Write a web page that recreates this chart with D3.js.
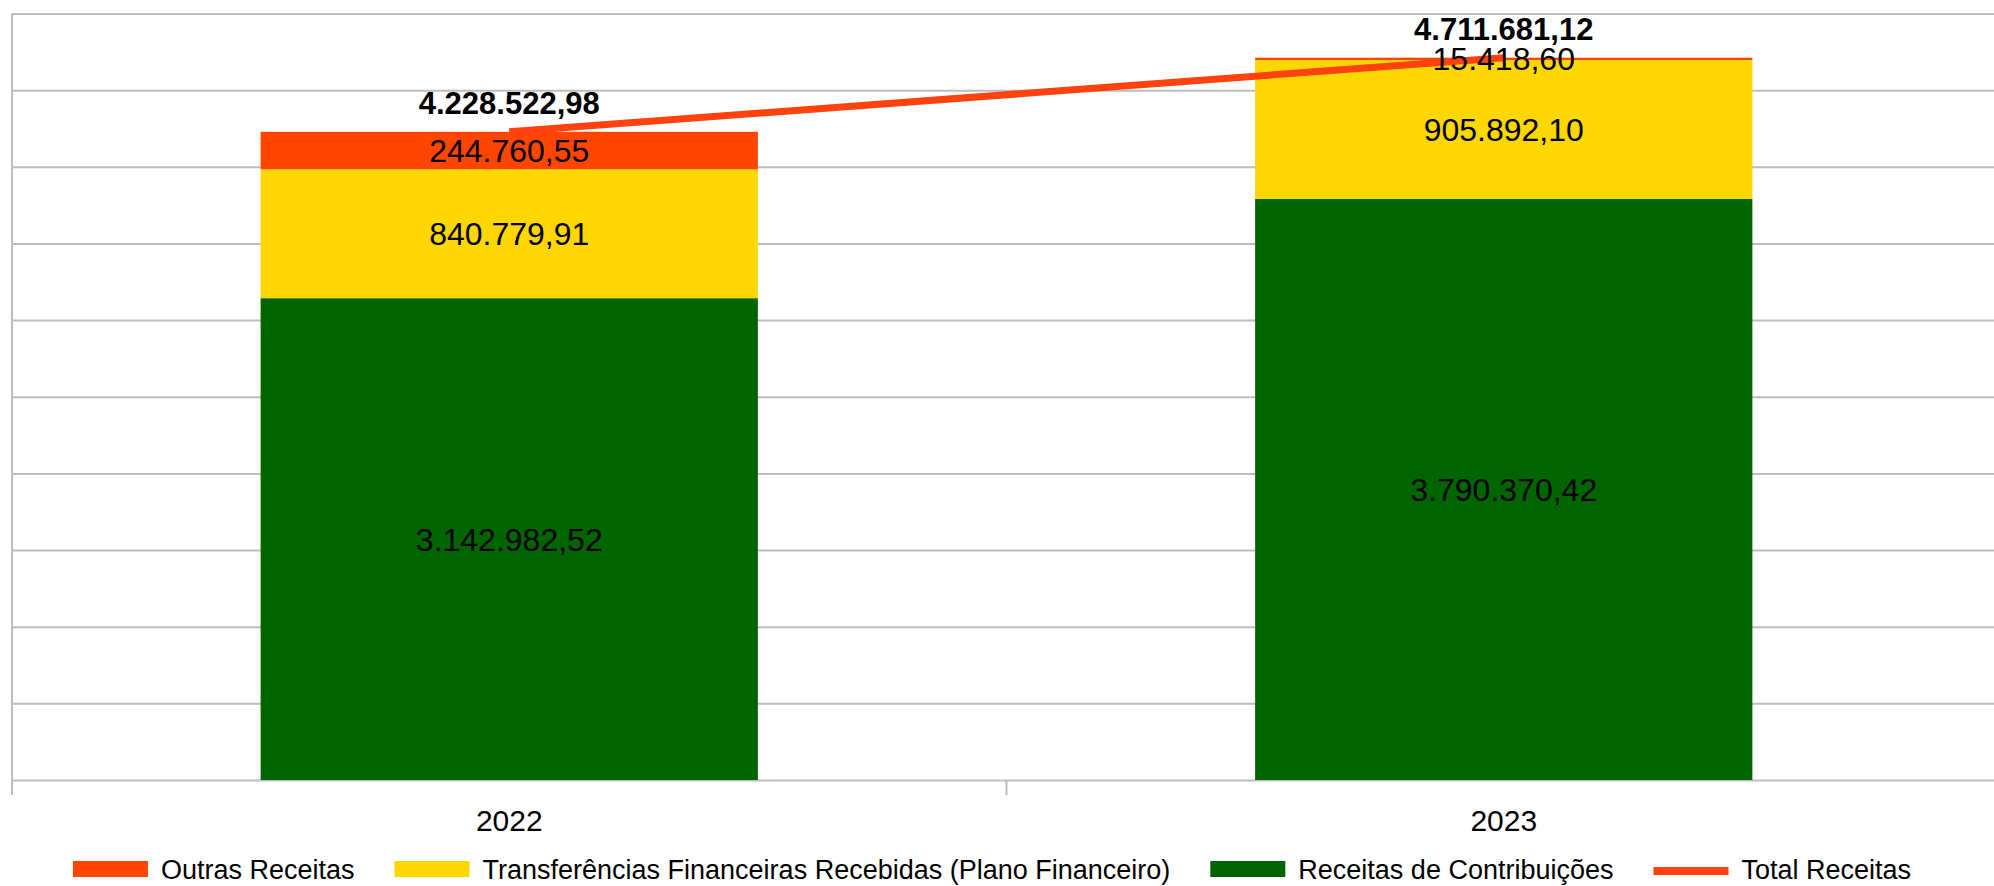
<html>
<head>
	<meta charset="UTF-8">
	<script src="https://cdn.jsdelivr.net/npm/d3@7"></script>
	<style>
		body { margin: 0; background: #fff; }
		svg { display: block; font-family: "Liberation Sans", Arial, sans-serif; }
		.grid line, .grid path { stroke: #bdbdbd; stroke-width: 2; }
		.xaxis line, .xaxis path { stroke: #bdbdbd; stroke-width: 2; }
		.xaxis text { font-size: 30px; fill: #000; }
		.vlabel { font-size: 32px; fill: #000; text-anchor: middle; }
		.tlabel { font-size: 31px; font-weight: bold; fill: #000; text-anchor: middle; }
		.legend text { font-size: 27px; fill: #000; }
		.total { fill: none; stroke: #ff420e; stroke-width: 7; }
	</style>
</head>
<body>
<div id="chart"></div>
<script type="text/javascript">
var years = ["2022", "2023"];
var contribuicoes = [3142982.52, 3790370.42];
var transferencias = [840779.91, 905892.10];
var outras = [244760.55, 15418.60];
var totais = [4228522.98, 4711681.12];
var seriesNames = ["Outras Receitas", "Transferências Financeiras Recebidas (Plano Financeiro)", "Receitas de Contribuições", "Total Receitas"];
var yTicks = [0, 500000, 1000000, 1500000, 2000000, 2500000, 3000000, 3500000, 4000000, 4500000, 5000000];

(function(d3) {
	var W = 1994, H = 886;
	var left = 12, right = 2001, top = 13.5, bottom = 780;

	var svg = d3.select("#chart").append("svg")
		.attr("width", W).attr("height", H);

	var x = d3.scaleBand().domain(years).range([left, right])
		.paddingInner(0.5).paddingOuter(0.25);
	var y = d3.scaleLinear().domain([0, 5000000]).range([bottom, top]);

	var fmt = function(v) {
		var s = v.toFixed(2).split(".");
		return s[0].replace(/\B(?=(\d{3})+(?!\d))/g, ".") + "," + s[1];
	};

	// grid lines (no labels)
	svg.append("g").attr("class", "grid")
		.attr("transform", "translate(" + left + ",0)")
		.call(d3.axisLeft(y).tickValues(yTicks).tickSize(-(W - left)).tickFormat(""))
		.call(function(g) { g.select(".domain").remove(); });
	svg.append("line").attr("class", "grid")
		.attr("x1", left).attr("x2", left).attr("y1", top).attr("y2", bottom + 15)
		.style("stroke", "#bdbdbd").style("stroke-width", 2);

	// category axis ticks sit between the bands
	var step = x.step();
	var boundaries = d3.range(years.length + 1).map(function(i) { return left + i * step; });
	svg.selectAll("line.xtick").data(boundaries).enter().append("line")
		.attr("class", "xtick")
		.attr("x1", function(d) { return d; }).attr("x2", function(d) { return d; })
		.attr("y1", bottom).attr("y2", bottom + 15)
		.style("stroke", "#bdbdbd").style("stroke-width", 2);

	svg.selectAll("text.xlab").data(years).enter().append("text")
		.attr("class", "xlab")
		.attr("x", function(d) { return x(d) + x.bandwidth() / 2; })
		.attr("y", 831)
		.attr("text-anchor", "middle")
		.style("font-size", "30px")
		.text(function(d) { return d; });

	// stacked segments
	var layers = [
		{ name: seriesNames[2], values: contribuicoes, color: "#006400" },
		{ name: seriesNames[1], values: transferencias, color: "#ffd700" },
		{ name: seriesNames[0], values: outras, color: "#ff4500" }
	];
	var base = years.map(function() { return 0; });
	layers.forEach(function(layer) {
		var segs = years.map(function(yr, i) {
			var s = { year: yr, y0: base[i], y1: base[i] + layer.values[i], v: layer.values[i] };
			base[i] = s.y1;
			return s;
		});
		svg.append("g").selectAll("rect").data(segs).enter().append("rect")
			.attr("x", function(d) { return x(d.year); })
			.attr("width", x.bandwidth())
			.attr("y", function(d) { return y(d.y1); })
			.attr("height", function(d) { return y(d.y0) - y(d.y1); })
			.attr("fill", layer.color);
		layer.segs = segs;
	});

	// total line
	var line = d3.line()
		.x(function(d, i) { return x(years[i]) + x.bandwidth() / 2; })
		.y(function(d) { return y(d); });
	svg.append("path").attr("class", "total").attr("d", line(totais));

	// segment labels
	layers.forEach(function(layer) {
		svg.append("g").selectAll("text").data(layer.segs).enter().append("text")
			.attr("class", "vlabel")
			.attr("x", function(d) { return x(d.year) + x.bandwidth() / 2; })
			.attr("y", function(d) { return (y(d.y0) + y(d.y1)) / 2 + 11.5; })
			.text(function(d) { return fmt(d.v); });
	});

	// total labels
	svg.append("g").selectAll("text").data(totais).enter().append("text")
		.attr("class", "tlabel")
		.attr("x", function(d, i) { return x(years[i]) + x.bandwidth() / 2; })
		.attr("y", function(d) { return y(d) - 18; })
		.text(function(d) { return fmt(d); });

	// legend
	var items = [
		{ name: seriesNames[0], color: "#ff4500", type: "rect" },
		{ name: seriesNames[1], color: "#ffd700", type: "rect" },
		{ name: seriesNames[2], color: "#006400", type: "rect" },
		{ name: seriesNames[3], color: "#ff420e", type: "line" }
	];
	var lg = svg.append("g").attr("class", "legend");
	var cx = 0;
	items.forEach(function(it) {
		var g = lg.append("g").attr("transform", "translate(" + cx + ",0)");
		if (it.type == "rect") {
			g.append("rect").attr("x", 0).attr("y", 861).attr("width", 75).attr("height", 16).attr("fill", it.color);
		} else {
			g.append("line").attr("x1", 0).attr("x2", 75).attr("y1", 871).attr("y2", 871)
				.attr("stroke", it.color).attr("stroke-width", 8);
		}
		var t = g.append("text").attr("x", 88).attr("y", 879).text(it.name);
		cx += 88 + t.node().getComputedTextLength() + 40;
	});
	var lw = cx - 40;
	lg.attr("transform", "translate(" + (992 - lw / 2) + ",0)");
})(window.d3);
</script>
</body>
</html>
